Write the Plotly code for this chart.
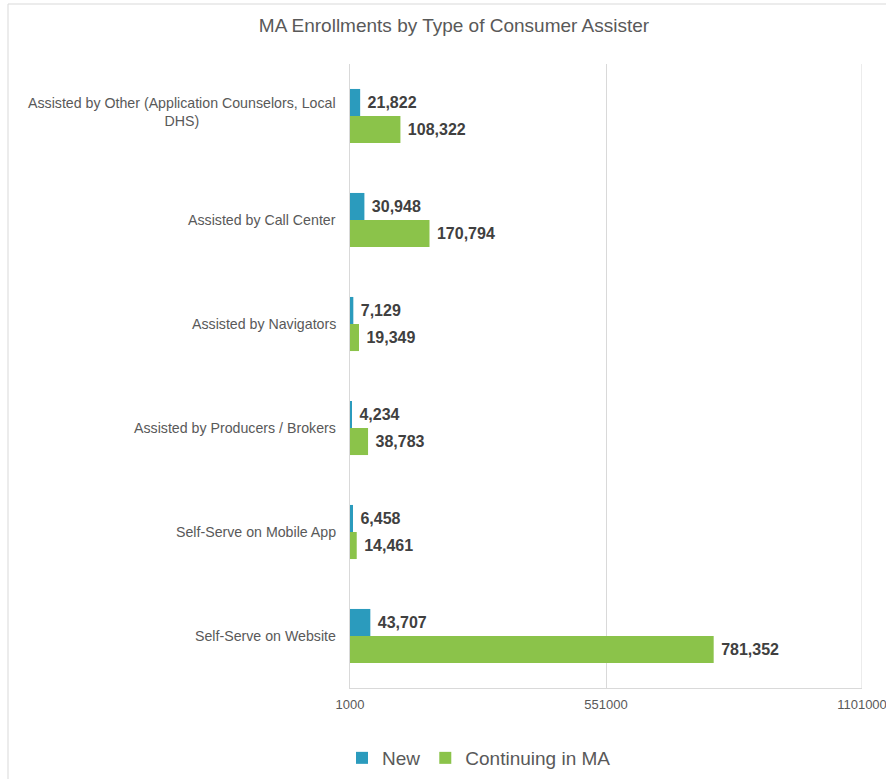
import plotly.graph_objects as go

# Enrollment counts by consumer assister type (listed top to bottom)
categories = [
    "Assisted by Other (Application Counselors, Local<br>DHS)",
    "Assisted by Call Center",
    "Assisted by Navigators",
    "Assisted by Producers / Brokers",
    "Self-Serve on Mobile App",
    "Self-Serve on Website",
]
new_enrollments = [21822, 30948, 7129, 4234, 6458, 43707]
continuing_in_ma = [108322, 170794, 19349, 38783, 14461, 781352]

x_ticks = [1000, 551000, 1101000]

BLUE = "#2b9bbd"
GREEN = "#8bc34a"
TEXT = "#595959"
GRID = "#d9d9d9"
FONT = "Liberation Sans, Arial, sans-serif"

fig = go.Figure()
for name, values, color in [
    ("New", new_enrollments, BLUE),
    ("Continuing in MA", continuing_in_ma, GREEN),
]:
    fig.add_trace(go.Bar(
        name=name,
        y=categories,
        x=values,
        base=1000,
        orientation="h",
        marker=dict(color=color, line=dict(width=0)),
        texttemplate="\u00a0%{x:,}",
        textposition="outside",
        constraintext="none",
        cliponaxis=False,
        textfont=dict(family=FONT, size=16, color="#404040", weight="bold"),
        hoverinfo="skip",
    ))

# Category labels drawn as centred text blocks to the left of the axis
annotations = [
    dict(
        text=c, xref="paper", x=-12 / 512, xanchor="right",
        yref="y", y=c, yanchor="middle", align="center", showarrow=False,
        yshift=4 if "<br>" in c else 0,
        font=dict(family=FONT, size=14.2, color=TEXT),
    )
    for c in categories
]

fig.update_layout(
    width=886,
    height=779,
    margin=dict(l=350, r=24, t=64, b=91),
    paper_bgcolor="white",
    plot_bgcolor="white",
    barmode="group",
    bargap=0.48,
    bargroupgap=0,
    title=dict(
        text="MA Enrollments by Type of Consumer Assister",
        xref="container", x=454 / 886, xanchor="center",
        yref="container", y=1 - 25 / 779, yanchor="middle",
        font=dict(family=FONT, size=19, color=TEXT),
    ),
    xaxis=dict(
        range=[x_ticks[0], x_ticks[-1]],
        tickvals=x_ticks,
        ticktext=[str(v) for v in x_ticks],
        showgrid=True, gridcolor=GRID, gridwidth=1,
        showline=True, linecolor=GRID, linewidth=1,
        zeroline=False, ticks="",
        ticklabelstandoff=4,
        ticklabeloverflow="allow",
        automargin=False,
        tickfont=dict(family=FONT, size=13, color=TEXT),
        fixedrange=True,
    ),
    yaxis=dict(
        categoryorder="array", categoryarray=categories,
        autorange="reversed",
        showticklabels=False, showgrid=False,
        showline=True, linecolor=GRID, linewidth=1,
        zeroline=False, ticks="",
        automargin=False,
        fixedrange=True,
    ),
    legend=dict(
        orientation="h",
        xref="container", x=479 / 886, xanchor="center",
        yref="container", y=1 - 758 / 779, yanchor="middle",
        font=dict(family=FONT, size=19, color=TEXT),
        traceorder="normal",
    ),
    annotations=annotations,
    shapes=[
        # gridline at the far end of the value axis
        dict(type="line", xref="x", yref="paper",
             x0=x_ticks[-1], x1=x_ticks[-1], y0=0, y1=1,
             line=dict(color=GRID, width=1), layer="below"),
        # chart frame (top and left edges)
        dict(type="line", xref="paper", yref="paper",
             x0=(8 - 350) / 512, x1=(900 - 350) / 512,
             y0=(688 - 4) / 624, y1=(688 - 4) / 624,
             line=dict(color=GRID, width=1), layer="below"),
        dict(type="line", xref="paper", yref="paper",
             x0=(8 - 350) / 512, x1=(8 - 350) / 512,
             y0=(688 - 4) / 624, y1=(688 - 800) / 624,
             line=dict(color=GRID, width=1), layer="below"),
    ],
)

fig.write_html("out.html")
